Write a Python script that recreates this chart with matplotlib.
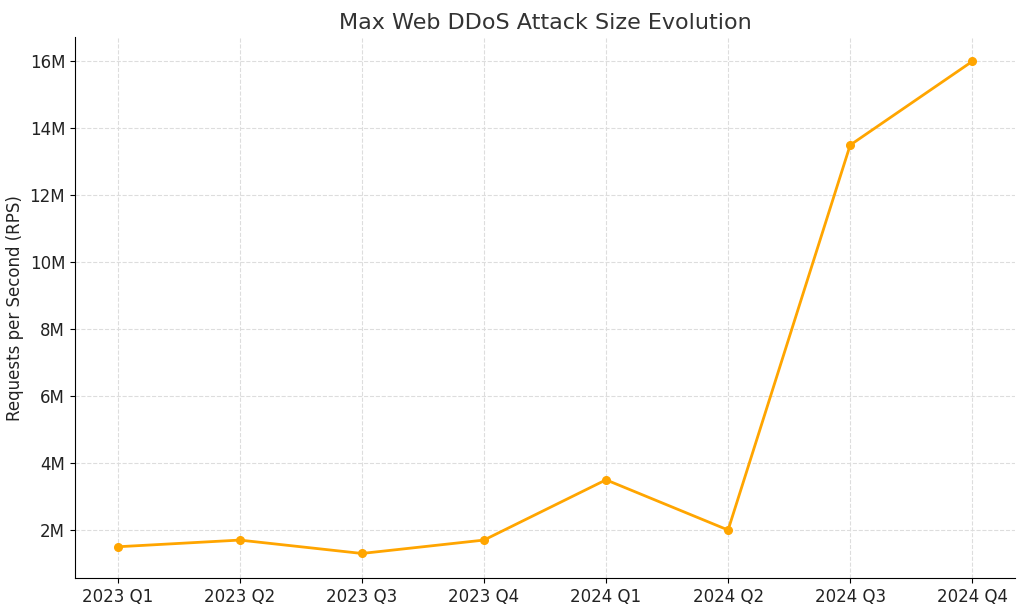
import matplotlib.pyplot as plt
from matplotlib.ticker import FuncFormatter

quarters = ['2023 Q1', '2023 Q2', '2023 Q3', '2023 Q4',
            '2024 Q1', '2024 Q2', '2024 Q3', '2024 Q4']
rps_millions = [1.5, 1.7, 1.3, 1.7, 3.5, 2.0, 13.5, 16.0]

fig = plt.figure(figsize=(10.24, 6.11), dpi=100)
ax = fig.add_axes([0.0732, 0.054, 0.918, 0.885])

x = list(range(len(quarters)))
ax.plot(x, [v * 1e6 for v in rps_millions], color='#FFA500', marker='o',
        markersize=5.5, linewidth=2)

ax.set_xticks(x)
ax.set_xticklabels(quarters, fontsize=12, color='#222222')
ax.set_ylim(0.567e6, 16.72e6)
ax.set_yticks([i * 2e6 for i in range(1, 9)])
ax.yaxis.set_major_formatter(FuncFormatter(lambda v, p: f'{v / 1e6:.0f}M'))
ax.tick_params(axis='y', labelsize=12, labelcolor='#222222')
ax.set_ylabel('Requests per Second (RPS)', fontsize=12, color='#222222')
ax.set_title('Max Web DDoS Attack Size Evolution', fontsize=16, color='#333333')

ax.grid(True, linestyle='--', color='#dddddd', linewidth=0.8)
ax.spines['top'].set_visible(False)
ax.spines['right'].set_visible(False)

fig.savefig('out.png', dpi=100)
